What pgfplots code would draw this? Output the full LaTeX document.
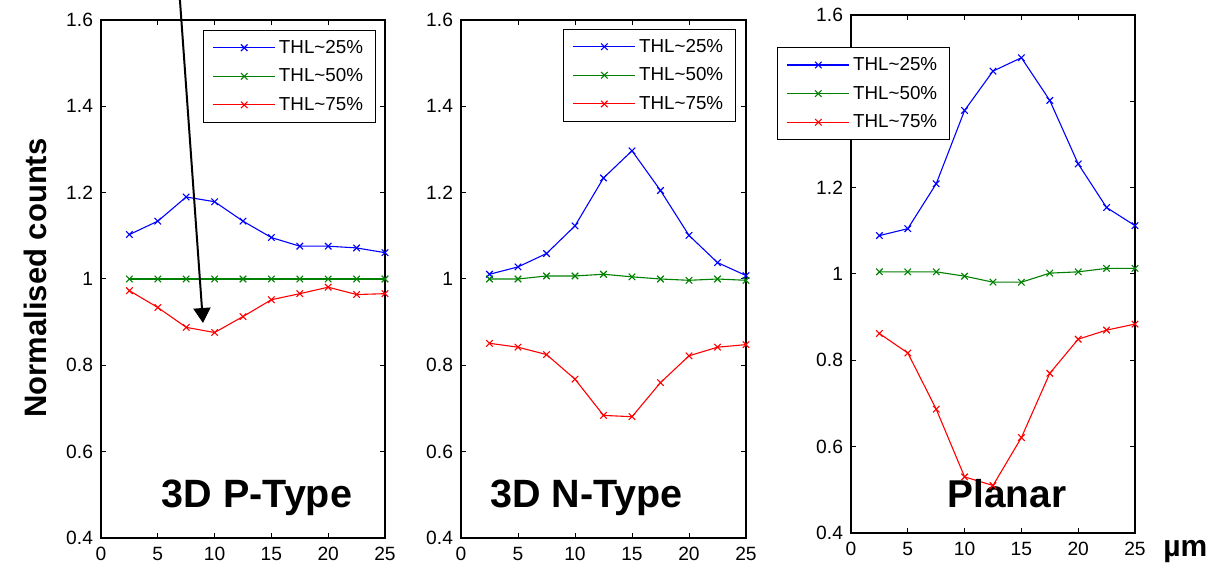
\documentclass[border=0pt]{standalone}
\usepackage{pgfplots}
\pgfplotsset{compat=1.18}
\usepackage{fontspec}
\setmainfont{Liberation Sans}
\usetikzlibrary{arrows.meta}
\definecolor{mblue}{RGB}{0,0,255}
\definecolor{mgreen}{RGB}{0,128,0}
\definecolor{mred}{RGB}{255,0,0}

\pgfplotsset{
  panel/.style={
    scale only axis,
    width=142pt, height=259pt,
    anchor=south west,
    xmin=0, xmax=25, ymin=0.4, ymax=1.6,
    xtick={0,5,10,15,20,25},
    ytick={0.4,0.6,0.8,1,1.2,1.4,1.6},
    yticklabels={0.4,0.6,0.8,1,1.2,1.4,1.6},
    tick align=inside,
    major tick length=2.5pt,
    axis line style={line width=0.6pt},
    every tick/.style={black, line width=0.5pt},
    tick label style={font=\fontsize{9.6}{11}\selectfont},
    /pgf/number format/assume math mode=true,
    xticklabel style={yshift=-1pt},
    yticklabel style={xshift=-0.5pt},
    clip=false,
    legend cell align=left,
    legend style={font=\fontsize{9.4}{11}\selectfont, draw=black, line width=0.6pt,
      fill=white, inner xsep=4.5pt, inner ysep=2.8pt, row sep=2.6pt,
      nodes={inner sep=1.6pt, text height=7pt, text depth=1.5pt}},
    legend image code/.code={
      \draw[mark repeat=2, mark phase=2] plot coordinates {(0pt,0pt) (15.5pt,0pt) (31pt,0pt)};
    },
  },
  every axis plot/.append style={line width=0.55pt, mark=x, mark size=2.3pt, mark options={solid, line width=0.55pt}},
}

\begin{document}
\begin{tikzpicture}
\useasboundingbox (0,0) rectangle (606pt,284pt);

% ---------- Panel 1 ----------
\begin{axis}[panel, at={(50.5pt,15pt)},
  legend style={at={(0.968,0.981)}, anchor=north east},
  ylabel={\textbf{Normalised counts}},
  ylabel style={font=\fontsize{15.5}{18}\selectfont, at={(axis description cs:-0.232,0.502)}, anchor=center}]
\addplot[mblue] coordinates {(2.5,1.103) (5,1.134) (7.5,1.190) (10,1.179) (12.5,1.134) (15,1.096) (17.5,1.076) (20,1.076) (22.5,1.072) (25,1.061)};
\addplot[mgreen] coordinates {(2.5,1.0) (5,1.0) (7.5,1.0) (10,1.0) (12.5,1.0) (15,1.0) (17.5,1.0) (20,1.0) (22.5,1.0) (25,1.0)};
\addplot[mred] coordinates {(2.5,0.973) (5,0.934) (7.5,0.888) (10,0.876) (12.5,0.913) (15,0.952) (17.5,0.966) (20,0.981) (22.5,0.964) (25,0.966)};
\legend{THL\textasciitilde 25\%, THL\textasciitilde 50\%, THL\textasciitilde 75\%}
\node[font=\bfseries\fontsize{19.75}{22}\selectfont, anchor=base] at (axis cs:13.73,0.470) {3D P-Type};
\draw[line width=1pt, -{Triangle[width=8.5pt,length=7.5pt]}] (axis cs:6.95,1.646) -- (axis cs:8.98,0.898);
\end{axis}

% ---------- Panel 2 ----------
\begin{axis}[panel, at={(230.5pt,15pt)}, width=142.5pt,
  legend style={at={(0.965,0.983)}, anchor=north east}]
\addplot[mblue] coordinates {(2.5,1.011) (5,1.028) (7.5,1.059) (10,1.123) (12.5,1.234) (15,1.297) (17.5,1.205) (20,1.101) (22.5,1.038) (25,1.008)};
\addplot[mgreen] coordinates {(2.5,1.0) (5,1.0) (7.5,1.007) (10,1.007) (12.5,1.011) (15,1.005) (17.5,1.0) (20,0.997) (22.5,1.0) (25,0.997)};
\addplot[mred] coordinates {(2.5,0.851) (5,0.842) (7.5,0.825) (10,0.768) (12.5,0.684) (15,0.681) (17.5,0.760) (20,0.822) (22.5,0.842) (25,0.848)};
\legend{THL\textasciitilde 25\%, THL\textasciitilde 50\%, THL\textasciitilde 75\%}
\node[font=\bfseries\fontsize{19.75}{22}\selectfont, anchor=base] at (axis cs:11.01,0.470) {3D N-Type};
\end{axis}

% ---------- Panel 3 ----------
\begin{axis}[panel, at={(425.5pt,17.5pt)},
  legend style={at={(-0.26,0.938)}, anchor=north west}]
\addplot[mblue] coordinates {(2.5,1.089) (5,1.105) (7.5,1.209) (10,1.379) (12.5,1.470) (15,1.501) (17.5,1.402) (20,1.255) (22.5,1.154) (25,1.112)};
\addplot[mgreen] coordinates {(2.5,1.005) (5,1.005) (7.5,1.005) (10,0.995) (12.5,0.981) (15,0.981) (17.5,1.002) (20,1.005) (22.5,1.013) (25,1.013)};
\addplot[mred] coordinates {(2.5,0.862) (5,0.817) (7.5,0.687) (10,0.530) (12.5,0.510) (15,0.621) (17.5,0.770) (20,0.849) (22.5,0.870) (25,0.884)};
\legend{THL\textasciitilde 25\%, THL\textasciitilde 50\%, THL\textasciitilde 75\%}
\node[font=\bfseries\fontsize{19.4}{22}\selectfont, anchor=base] at (axis cs:13.73,0.458) {Planar};
\node[font=\bfseries\fontsize{15}{18}\selectfont, anchor=base west, inner sep=0pt] at (axis cs:27.46,0.345) {µm};
\end{axis}
\end{tikzpicture}
\end{document}
